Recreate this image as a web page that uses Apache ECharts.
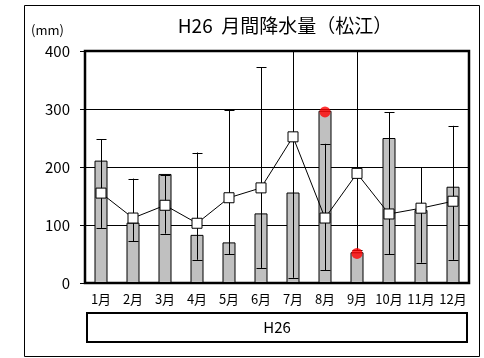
<!DOCTYPE html>
<html><head><meta charset="utf-8">
<script src="https://cdn.jsdelivr.net/npm/echarts@6/dist/echarts.min.js"></script>
<style>html,body{margin:0;padding:0;background:#fff}#c{width:484px;height:358px}</style>
</head><body><div id="c"></div>
<script>
const months = ['1月','2月','3月','4月','5月','6月','7月','8月','9月','10月','11月','12月'];
const yTicks = [0,100,200,300,400];
const monthly = [211,104,188,83,70,120,156,297,53,250,126,166];
const normal = [155,112,134,103,147,164,252,112,189,119,129,141];
const high = [248,180,187,225,298,372,430,240,420,294,200,271];
const low = [95,72,85,40,50,26,9,22,57,50,35,40];
const recordMax = [null,null,null,null,null,null,null,295,null,null,null,null];
const recordMin = [null,null,null,null,null,null,null,null,51,null,null,null];
const groupLabel = 'H26';

const FONT = '"Noto Sans CJK JP",sans-serif';
const chart = echarts.init(document.getElementById('c'));
const errData = months.map((m,i)=>[i, low[i], high[i]]);
chart.setOption({
  animation:false,
  title:{text:'H26  月間降水量（松江）', left:280, top:11, textAlign:'center',
    textStyle:{fontSize:19, fontWeight:'normal', color:'#000', fontFamily:FONT}},
  grid:{left:85, right:15, top:51, bottom:75, show:true, borderColor:'#000', borderWidth:2.5, backgroundColor:'#fff'},
  xAxis:{type:'category', data:months, axisTick:{show:false}, axisLine:{show:false},
    axisLabel:{color:'#000', fontSize:13, margin:10, interval:0, fontFamily:FONT}},
  yAxis:{type:'value', min:yTicks[0], max:yTicks[yTicks.length-1], interval:100,
    axisLine:{show:false}, axisTick:{show:true, length:5, lineStyle:{color:'#000'}},
    splitLine:{lineStyle:{color:'#000', width:1}},
    axisLabel:{color:'#000', fontSize:15, margin:15, fontFamily:FONT}},
  graphic:[
    {type:'rect', shape:{x:24.5, y:5.5, width:455, height:351}, style:{fill:null, stroke:'#000', lineWidth:1}, z:-10},
    {type:'text', left:31, top:24, style:{text:'(mm)', fontSize:13, fill:'#000', fontFamily:FONT}},
    {type:'rect', shape:{x:87, y:313, width:380, height:29}, style:{fill:'#fff', stroke:'#000', lineWidth:2}},
    {type:'text', x:277, y:327, style:{text:groupLabel, fontSize:15, fill:'#000', align:'center', verticalAlign:'middle', fontFamily:FONT}}
  ],
  series:[
    {type:'bar', data:monthly, barWidth:13, itemStyle:{color:'#c0c0c0', borderColor:'#000', borderWidth:1}, z:2},
    {type:'custom', data:errData, z:3, clip:true,
      renderItem:function(params, api){
        const x = api.value(0);
        const pl = api.coord([x, api.value(1)]);
        const ph = api.coord([x, api.value(2)]);
        const top = params.coordSys.y;
        const hy = Math.max(ph[1], top);
        const cx = Math.round(pl[0])+0.5;
        const ch = [];
        ch.push({type:'line', shape:{x1:cx,y1:pl[1],x2:cx,y2:hy}, style:{stroke:'#000', lineWidth:1}});
        ch.push({type:'line', shape:{x1:cx-5,y1:Math.round(pl[1])+0.5,x2:cx+5,y2:Math.round(pl[1])+0.5}, style:{stroke:'#000', lineWidth:1}});
        if (ph[1] >= top) ch.push({type:'line', shape:{x1:cx-5,y1:Math.round(ph[1])+0.5,x2:cx+5,y2:Math.round(ph[1])+0.5}, style:{stroke:'#000', lineWidth:1}});
        return {type:'group', children:ch};
      }},
    {type:'line', data:normal, symbol:'rect', symbolSize:10, lineStyle:{color:'#000', width:1},
      itemStyle:{color:'#fff', borderColor:'#000', borderWidth:1}, z:4},
    {type:'scatter', data:recordMax, symbolSize:11, itemStyle:{color:'#ff0000'}, z:5},
    {type:'scatter', data:recordMin, symbolSize:11, itemStyle:{color:'#ff0000'}, z:5}
  ]
});
</script></body></html>
